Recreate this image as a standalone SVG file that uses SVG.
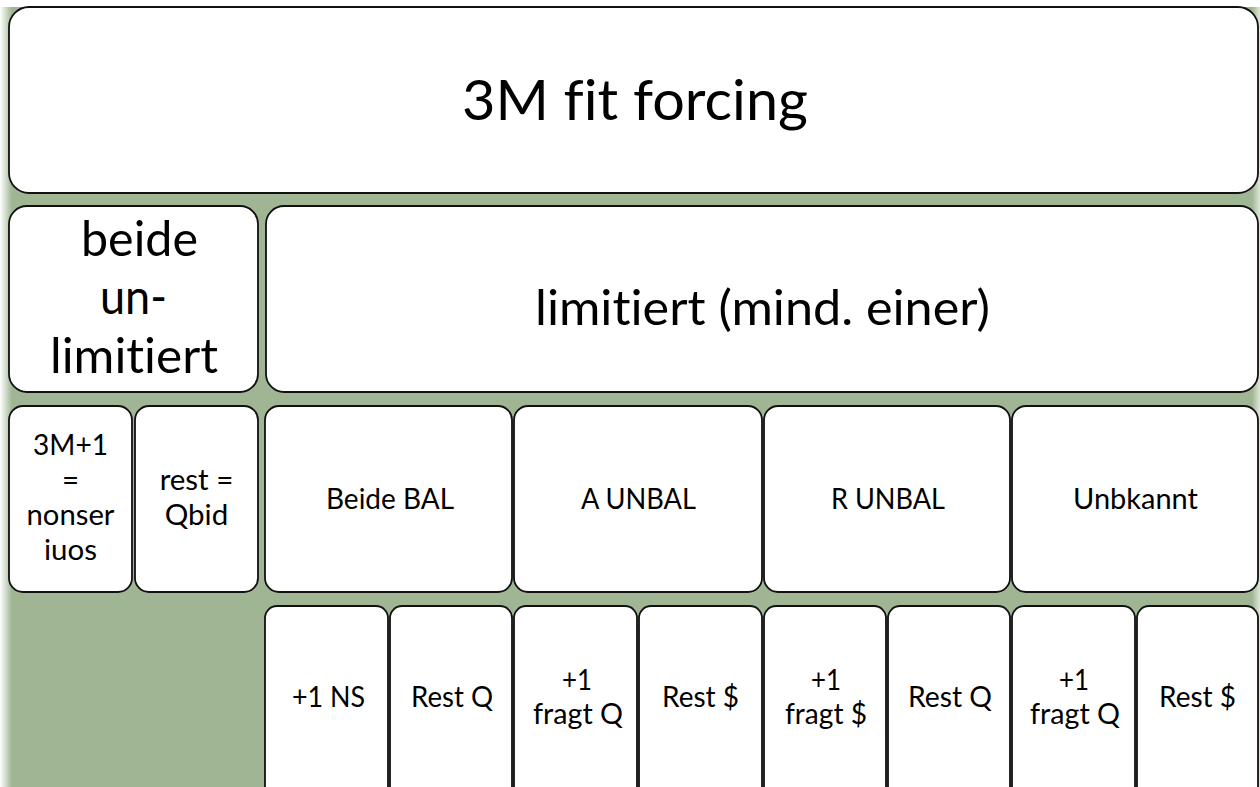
<svg xmlns="http://www.w3.org/2000/svg" width="1260" height="787" viewBox="0 0 1260 787">
  <defs>
    <linearGradient id="leftFade" x1="0" y1="0" x2="1" y2="0">
      <stop offset="0" stop-color="#ffffff"/>
      <stop offset="0.25" stop-color="#e6ede2"/>
      <stop offset="1" stop-color="#9fb594"/>
    </linearGradient>
    <linearGradient id="rightFade" x1="0" y1="0" x2="1" y2="0">
      <stop offset="0" stop-color="#9fb594"/>
      <stop offset="1" stop-color="#dfe8da"/>
    </linearGradient>
  </defs>
  <style>
    .box { fill: #ffffff; stroke: #111111; stroke-width: 1.8; }
    .t { font-family: Lato, "Liberation Sans", sans-serif; fill: #000000; text-anchor: middle; font-variant-ligatures: none; font-feature-settings: "liga" 0; }
    .xl { font-size: 57px; }
    .l { font-size: 48px; }
    .m { font-size: 29.5px; }
  </style>
  <rect x="0" y="0" width="1260" height="787" fill="#ffffff"/>
  <rect x="0" y="7" width="1260" height="780" fill="#9fb594"/>
  <rect x="0" y="7" width="12" height="780" fill="url(#leftFade)"/>
  <rect x="1252" y="7" width="8" height="780" fill="url(#rightFade)"/>

  <g id="node-title">
    <rect class="box" x="9" y="7" width="1249" height="186" rx="20"/>
    <text class="t xl" x="635" y="120" textLength="346" lengthAdjust="spacingAndGlyphs">3M fit forcing</text>
  </g>

  <g id="node-beide">
    <rect class="box" x="9" y="206" width="249" height="186" rx="18"/>
    <text class="t l" x="139.5" y="256" textLength="117" lengthAdjust="spacingAndGlyphs">beide</text>
    <text class="t l" x="133.5" y="314" textLength="67" lengthAdjust="spacingAndGlyphs">un-</text>
    <text class="t l" x="134" y="373" textLength="168" lengthAdjust="spacingAndGlyphs">limitiert</text>
  </g>

  <g id="node-limitiert">
    <rect class="box" x="266" y="206" width="992" height="186" rx="18"/>
    <text class="t l" x="762.5" y="325" textLength="455" lengthAdjust="spacingAndGlyphs">limitiert (mind. einer)</text>
  </g>

  <g id="node-3m1">
    <rect class="box" x="9" y="406" width="123" height="186" rx="14"/>
    <text class="t m" x="70.5" y="455" textLength="75" lengthAdjust="spacingAndGlyphs">3M+1</text>
    <text class="t m" x="70.5" y="490">=</text>
    <text class="t m" x="70.5" y="525" textLength="88" lengthAdjust="spacingAndGlyphs">nonser</text>
    <text class="t m" x="70.5" y="560">iuos</text>
  </g>

  <g id="node-rest">
    <rect class="box" x="135" y="406" width="123" height="186" rx="14"/>
    <text class="t m" x="196.5" y="490">rest =</text>
    <text class="t m" x="196.5" y="525">Qbid</text>
  </g>

  <g id="node-beidebal">
    <rect class="box" x="265" y="406" width="247" height="186" rx="14"/>
    <text class="t m" x="390" y="509" textLength="128" lengthAdjust="spacingAndGlyphs">Beide BAL</text>
  </g>

  <g id="node-aunbal">
    <rect class="box" x="514" y="406" width="248" height="186" rx="14"/>
    <text class="t m" x="638.5" y="509" textLength="115" lengthAdjust="spacingAndGlyphs">A UNBAL</text>
  </g>

  <g id="node-runbal">
    <rect class="box" x="764" y="406" width="246" height="186" rx="14"/>
    <text class="t m" x="888" y="509" textLength="114" lengthAdjust="spacingAndGlyphs">R UNBAL</text>
  </g>

  <g id="node-unbkannt">
    <rect class="box" x="1012" y="406" width="246" height="186" rx="14"/>
    <text class="t m" x="1135.5" y="509" textLength="125" lengthAdjust="spacingAndGlyphs">Unbkannt</text>
  </g>

  <g id="node-b1">
    <rect class="box" x="265" y="606" width="123" height="200" rx="12"/>
    <text class="t m" x="328.5" y="707" textLength="73" lengthAdjust="spacingAndGlyphs">+1 NS</text>
  </g>
  <g id="node-b2">
    <rect class="box" x="390" y="606" width="122" height="200" rx="12"/>
    <text class="t m" x="452" y="707" textLength="82" lengthAdjust="spacingAndGlyphs">Rest Q</text>
  </g>
  <g id="node-a1">
    <rect class="box" x="514" y="606" width="123" height="200" rx="12"/>
    <text class="t m" x="577" y="690" textLength="30" lengthAdjust="spacingAndGlyphs">+1</text>
    <text class="t m" x="578" y="724" textLength="90" lengthAdjust="spacingAndGlyphs">fragt Q</text>
  </g>
  <g id="node-a2">
    <rect class="box" x="639" y="606" width="123" height="200" rx="12"/>
    <text class="t m" x="700.5" y="707" textLength="77" lengthAdjust="spacingAndGlyphs">Rest $</text>
  </g>
  <g id="node-r1">
    <rect class="box" x="764" y="606" width="122" height="200" rx="12"/>
    <text class="t m" x="826" y="690" textLength="30" lengthAdjust="spacingAndGlyphs">+1</text>
    <text class="t m" x="826" y="724" textLength="82" lengthAdjust="spacingAndGlyphs">fragt $</text>
  </g>
  <g id="node-r2">
    <rect class="box" x="888" y="606" width="122" height="200" rx="12"/>
    <text class="t m" x="950" y="707" textLength="84" lengthAdjust="spacingAndGlyphs">Rest Q</text>
  </g>
  <g id="node-u1">
    <rect class="box" x="1012" y="606" width="123" height="200" rx="12"/>
    <text class="t m" x="1074" y="690" textLength="30" lengthAdjust="spacingAndGlyphs">+1</text>
    <text class="t m" x="1075" y="724" textLength="90" lengthAdjust="spacingAndGlyphs">fragt Q</text>
  </g>
  <g id="node-u2">
    <rect class="box" x="1137" y="606" width="121" height="200" rx="12"/>
    <text class="t m" x="1197.5" y="707" textLength="77" lengthAdjust="spacingAndGlyphs">Rest $</text>
  </g>

  <g id="connectors"></g>
</svg>
